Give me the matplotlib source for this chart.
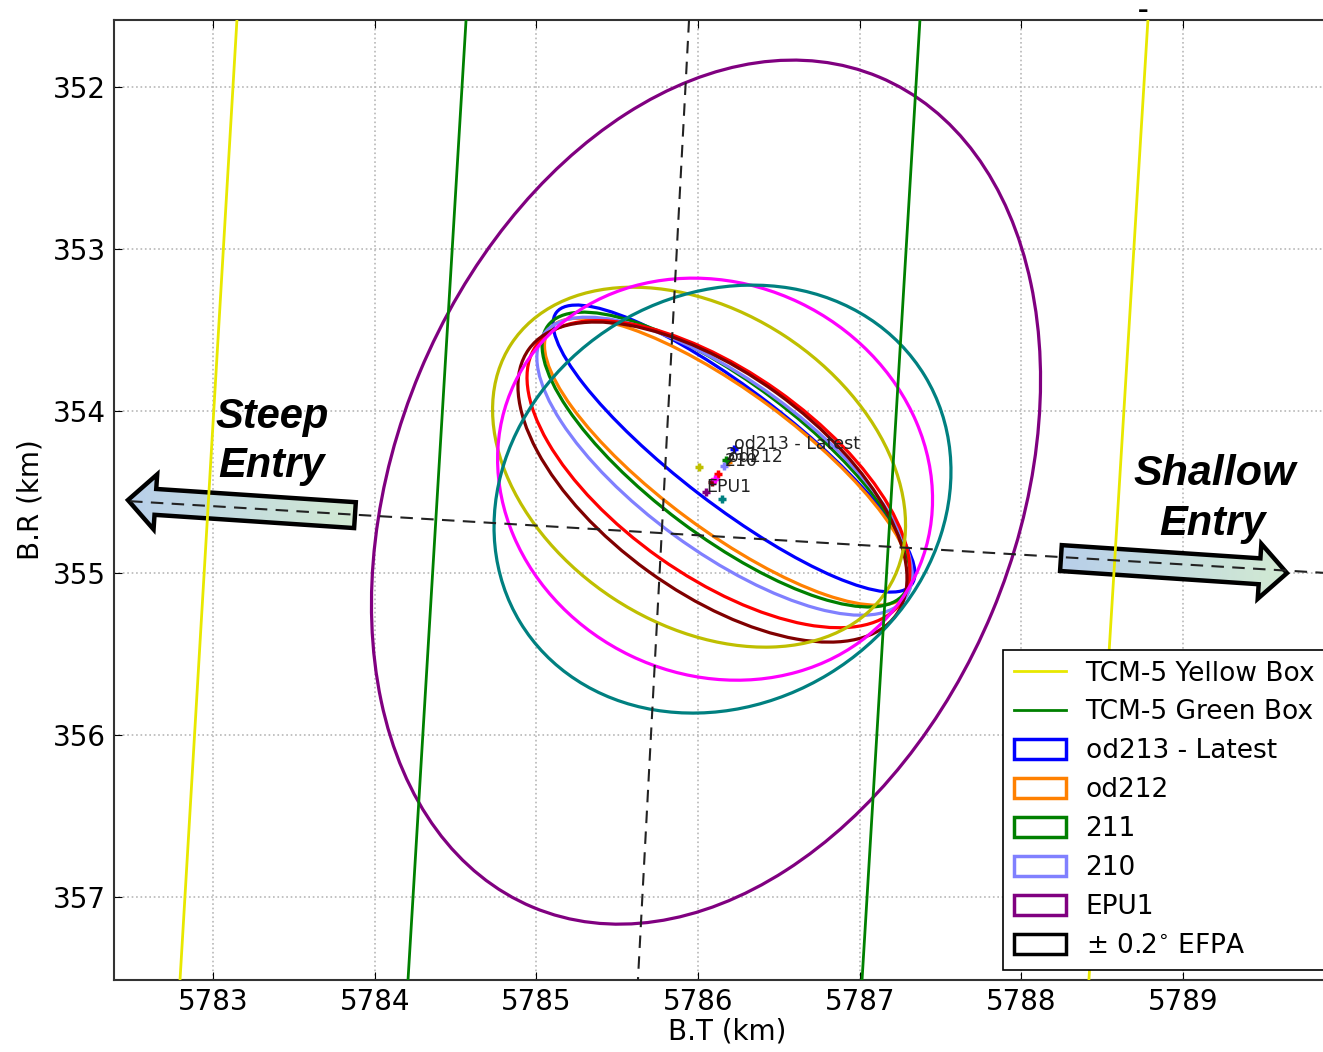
import numpy as np
import matplotlib
matplotlib.use("Agg")
import matplotlib.pyplot as plt
from matplotlib.patches import Ellipse, FancyArrow, Rectangle
from matplotlib.lines import Line2D
from matplotlib.colors import LinearSegmentedColormap

# B-plane target boxes (x at top / bottom of the plot window)
box_y = [351.586, 357.512]
yellow_box_x = [[5783.148, 5782.796], [5788.782, 5788.417]]
green_box_x = [[5784.565, 5784.206], [5787.372, 5787.014]]

# entry corridor axes (dashed)
corr_a_x = [5785.944, 5785.628]
corr_a_y = [351.586, 357.512]
corr_b_x = [5782.487, 5789.865]
corr_b_y = [354.556, 354.998]

# OD solutions: centre, half extents in B.T / B.R, correlation
sol_names = ["od213 - Latest", "od212", "211", "210", "EPU1", "od209", "od208", "od207", "od206", "od205"]
sol_colors = ["#0000ff", "#ff8000", "#008000", "#8080ff", "#800080", "#ff0000", "#800000", "#bfbf00", "#ff00ff", "#008080"]
sol_bt = [5786.222, 5786.185, 5786.173, 5786.163, 5786.049, 5786.126, 5786.089, 5786.006, 5786.105, 5786.151]
sol_br = [354.231, 354.312, 354.299, 354.340, 354.500, 354.389, 354.438, 354.346, 354.420, 354.543]
sol_hx = [1.119, 1.135, 1.138, 1.160, 2.069, 1.184, 1.203, 1.277, 1.345, 1.413]
sol_hy = [0.886, 0.886, 0.910, 0.920, 2.667, 0.948, 0.988, 1.111, 1.241, 1.321]
sol_rho = [0.87, 0.81, 0.775, 0.73, -0.26, 0.63, 0.60, 0.32, 0.10, -0.13]
labelled = ["od213 - Latest", "od212", "211", "210", "EPU1"]

fig = plt.figure(figsize=(13.23, 10.52), dpi=100)
ax = fig.add_axes([0.0862, 0.0684, 1.1 - 0.0862, 0.9125])
ax.set_xlim(5782.388, 5790.683)
ax.set_ylim(357.512, 351.586)

ax.grid(True, linestyle=":", color="#b8b8b8", linewidth=1.2, zorder=0)
ax.set_axisbelow(True)

for xs in yellow_box_x:
    ax.plot(xs, box_y, color="#e8e800", lw=2, zorder=4)
for xs in green_box_x:
    ax.plot(xs, box_y, color="#008000", lw=2, zorder=4)

for i in range(len(sol_names)):
    hx, hy, r = sol_hx[i], sol_hy[i], sol_rho[i]
    cov = np.array([[hx * hx, r * hx * hy], [r * hx * hy, hy * hy]])
    vals, vecs = np.linalg.eigh(cov)
    ang = np.degrees(np.arctan2(vecs[1, 1], vecs[0, 1]))
    e = Ellipse((sol_bt[i], sol_br[i]), 2 * np.sqrt(vals[1]), 2 * np.sqrt(vals[0]),
                angle=ang, fill=False, edgecolor=sol_colors[i], lw=2.3, zorder=3)
    ax.add_patch(e)
    ax.plot(sol_bt[i], sol_br[i], marker="+", ms=6, mew=2.5, color=sol_colors[i], zorder=6)
    if sol_names[i] in labelled:
        ax.text(sol_bt[i], sol_br[i], sol_names[i], fontsize=12.5, color="#222222", zorder=7)

# arrows for steep / shallow entry
cmap = LinearSegmentedColormap.from_list("arr", ["#b8cfea", "#d2ead2"])
grad = np.linspace(0, 1, 256).reshape(1, -1)
arrows = [(5783.878, 354.642, -1.404, -0.093), (5788.244, 354.907, 1.398, 0.093)]
for x0, y0, dx, dy in arrows:
    arr = FancyArrow(x0, y0, dx, dy, width=0.16, head_width=0.34, head_length=0.17,
                     length_includes_head=True, facecolor="none", edgecolor="black",
                     lw=3.2, joinstyle="miter", zorder=2)
    ax.add_patch(arr)
    xa, xb = min(x0, x0 + dx), max(x0, x0 + dx)
    im = ax.imshow(grad, cmap=cmap, aspect="auto", extent=[xa, xb, 355.3, 354.2],
                   zorder=1.5, interpolation="bilinear")
    im.set_clip_path(arr)

ax.plot(corr_a_x, corr_a_y, "--", color="#222222", lw=1.5, dashes=(6, 4), zorder=5)
ax.plot(corr_b_x, corr_b_y, "--", color="#222222", lw=1.5, dashes=(6, 4), zorder=5)

ax.set_xlim(5782.388, 5790.683)
ax.set_ylim(357.512, 351.586)

tkw = dict(fontweight="bold", fontstyle="italic", family="Liberation Sans",
           ha="center", zorder=8)
ax.text(5783.365, 354.105, "Steep", fontsize=30, **tkw)
ax.text(5783.359, 354.407, "Entry", fontsize=30, **tkw)
ax.text(5789.197, 354.457, "Shallow", fontsize=31, **tkw)
ax.text(5789.184, 354.765, "Entry", fontsize=30, **tkw)

ax.set_xticks([5783, 5784, 5785, 5786, 5787, 5788, 5789])
ax.set_yticks([352, 353, 354, 355, 356, 357])
ax.tick_params(direction="in", top=True, right=True, labelsize=20, pad=6, length=6)
ax.set_xlabel("B.T (km)", fontsize=20)
ax.xaxis.set_label_coords(0.457, -0.039, transform=ax.transAxes)
ax.xaxis.label.set_va("top")
ax.set_ylabel("B.R (km)", fontsize=20, labelpad=6)
for s in ax.spines.values():
    s.set_linewidth(1.5)
    s.set_color("#333333")

handles = [Line2D([], [], color="#e8e800", lw=2), Line2D([], [], color="#008000", lw=2)]
labels = ["TCM-5 Yellow Box", "TCM-5 Green Box"]
for nm, c in zip(sol_names, sol_colors):
    if nm in labelled:
        handles.append(Rectangle((0, 0), 1, 1, facecolor="none", edgecolor=c, lw=2.5))
        labels.append(nm)
handles.append(Rectangle((0, 0), 1, 1, facecolor="none", edgecolor="black", lw=2.5))
labels.append(r"$\pm$ 0.2$^{\circ}$ EFPA")
leg = ax.legend(handles, labels, loc="upper left", bbox_to_anchor=(1003 / 1323, 1 - 650 / 1052),
                bbox_transform=fig.transFigure, borderaxespad=0, fancybox=False, framealpha=1,
                edgecolor="black", fontsize=19, labelspacing=0.49, handlelength=1.97,
                handleheight=0.76, handletextpad=0.76, borderpad=0.4)
leg.set_zorder(10)
leg.get_frame().set_linewidth(1.2)

fig.text(1143 / 1323, 1 - 11 / 1052, "\u2013", fontsize=15, fontweight="bold", ha="center", va="center")

fig.savefig("out.png", dpi=100)
